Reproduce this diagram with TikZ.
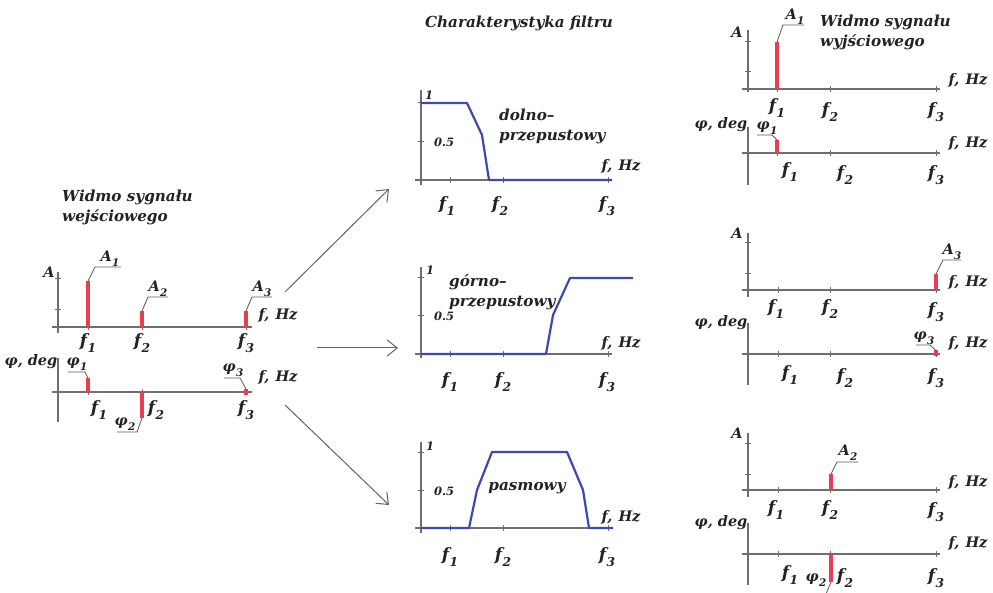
\documentclass[tikz,border=0pt]{standalone}
\usepackage{fontspec}
\setmainfont{DejaVu Serif}
\usetikzlibrary{arrows.meta}
\definecolor{axgray}{RGB}{110,110,110}
\definecolor{barred}{RGB}{232,62,82}
\definecolor{curveblue}{RGB}{62,72,178}
\definecolor{txt}{RGB}{35,35,35}
\newcommand\sbx[2]{#1\kern0.3pt\raisebox{-0.32em}{\fontsize{0.72em}{1em}\selectfont #2}}
\newcommand\fhz{f,\kern6pt Hz}
\tikzset{
  ax/.style={draw=axgray, line width=1.4},
  tk/.style={draw=axgray, line width=1},
  sbar/.style={draw=barred, line width=4.5},
  crv/.style={draw=curveblue, line width=2.2, line join=round},
  ld/.style={draw=axgray!80!black, line width=0.8},
  arr/.style={draw=axgray!90!black, line width=1, -{Straight Barb[length=10,width=16]}},
  lbl/.style={text=txt, inner sep=0, font=\fontsize{14.5}{17}\selectfont\bfseries\itshape},
  flab/.style={text=txt, inner sep=0, font=\fontsize{17}{20}\selectfont\bfseries\itshape},
  small/.style={text=txt, inner sep=0, font=\fontsize{11.5}{14}\selectfont\bfseries\itshape},
  ttl/.style={text=txt, inner sep=0, align=left, font=\fontsize{15.2}{20}\selectfont\bfseries\itshape},
}
\begin{document}
\begin{tikzpicture}[x=1pt,y=-1pt]
\useasboundingbox (0,0) rectangle (993,593);
\fill[white] (0,0) rectangle (993,593);

% ================= LEFT: input spectrum =================
\node[ttl, anchor=west] (tin) at (62,207.5) {Widmo sygnału\\wejściowego};
% amplitude
\draw[ax] (58,272) -- (58,333);
\draw[ax] (52,327) -- (252,327);
\foreach \y in {279,310} \draw[tk] (55,\y) -- (61,\y);
\foreach \x in {88,142,246} \draw[tk] (\x,324) -- (\x,330);
\draw[sbar] (88,327) -- (88,281);
\draw[sbar] (142,327) -- (142,311);
\draw[sbar] (246,327) -- (246,311);
\draw[ld] (88,281) -- (95,267) -- (121,267);
\draw[ld] (142,311) -- (148,297) -- (168,297);
\draw[ld] (246,311) -- (252,297) -- (272,297);
\node[lbl] (la1) at (110,259) {\sbx{A}{1}};
\node[lbl] (la2) at (158,289) {\sbx{A}{2}};
\node[lbl] (la3) at (262,289) {\sbx{A}{3}};
\node[lbl] (lA) at (49,272) {A};
\node[lbl] (lfhz1) at (278,315) {\fhz};
\node[flab] (lf1) at (88,343) {\sbx{f}{1}};
\node[flab] (lf2) at (142,343) {\sbx{f}{2}};
\node[flab] (lf3) at (246,343) {\sbx{f}{3}};
% phase
\draw[ax] (58,358) -- (58,422);
\draw[ax] (52,392) -- (252,392);
\foreach \x in {88,142,246} \draw[tk] (\x,389) -- (\x,395);
\draw[sbar] (88,392) -- (88,378);
\draw[sbar] (142,392) -- (142,418);
\draw[sbar] (246,394.5) -- (246,389);
\draw[ld] (88,378) -- (85,372) -- (68,372);
\draw[ld] (142,418) -- (137,432) -- (117,432);
\draw[ld] (246,389) -- (240,378) -- (224,378);
\node[lbl] (lp1) at (77,364) {\sbx{φ}{1}};
\node[lbl] (lp2) at (125,424) {\sbx{φ}{2}};
\node[lbl] (lp3) at (233,370) {\sbx{φ}{3}};
\node[lbl] (lphi) at (31,362) {φ, deg};
\node[lbl] (lfhz2) at (278,377) {\fhz};
\node[flab] (lpf1) at (99,410) {\sbx{f}{1}};
\node[flab] (lpf2) at (156,410) {\sbx{f}{2}};
\node[flab] (lpf3) at (246,410) {\sbx{f}{3}};

% ================= ARROWS =================
\coordinate (a1s) at (285,292); \coordinate (a1e) at (389,189);
\coordinate (a2s) at (317,348); \coordinate (a2e) at (398,348);
\coordinate (a3s) at (285,405); \coordinate (a3e) at (389,505);
\draw[arr] (a1s) -- (a1e);
\draw[arr] (a2s) -- (a2e);
\draw[arr] (a3s) -- (a3e);

% ================= MIDDLE: filters =================
\node[ttl] (tfilt) at (519,23) {Charakterystyka filtru};
% low-pass
\draw[ax] (421,90) -- (421,185);
\draw[ax] (415,180) -- (612,180);
\foreach \y in {103,142} \draw[tk] (418,\y) -- (424,\y);
\foreach \x in {450,503,608} \draw[tk] (\x,177) -- (\x,183);
\draw[crv] (421,103) -- (467,103) -- (482,135) -- (489,180) -- (612,180);
\node[small] (lo1) at (429,95) {1};
\node[small] (lo05) at (444,142) {0.5};
\node[ttl, anchor=west] (lotxt) at (499,126) {dolno--\\przepustowy};
\node[lbl] (lofhz) at (621,166) {\fhz};
\node[flab] (lof1) at (447,206) {\sbx{f}{1}};
\node[flab] (lof2) at (500,206) {\sbx{f}{2}};
\node[flab] (lof3) at (607,206) {\sbx{f}{3}};
% high-pass
\draw[ax] (421,267) -- (421,358);
\draw[ax] (415,354) -- (612,354);
\foreach \y in {278,316} \draw[tk] (418,\y) -- (424,\y);
\foreach \x in {450,503,608} \draw[tk] (\x,351) -- (\x,357);
\draw[crv] (421,354) -- (546,354) -- (553,315) -- (570,278) -- (633,278);
\node[small] (hi1) at (430,270) {1};
\node[small] (hi05) at (444,316) {0.5};
\node[ttl, anchor=west] (hitxt) at (449,292) {górno--\\przepustowy};
\node[lbl] (hifhz) at (621,343) {\fhz};
\node[flab] (hif1) at (450,382) {\sbx{f}{1}};
\node[flab] (hif2) at (503,382) {\sbx{f}{2}};
\node[flab] (hif3) at (607,382) {\sbx{f}{3}};
% band-pass
\draw[ax] (421,442) -- (421,533);
\draw[ax] (415,528) -- (613,528);
\foreach \y in {452,490} \draw[tk] (418,\y) -- (424,\y);
\foreach \x in {450,503,608} \draw[tk] (\x,525) -- (\x,531);
\draw[crv] (421,528) -- (469,528) -- (477,490) -- (492,452) -- (567,452) -- (583,490) -- (589,528) -- (613,528);
\node[small] (bp1) at (430,446) {1};
\node[small] (bp05) at (444,491) {0.5};
\node[ttl] (bptxt) at (527,488) {pasmowy};
\node[lbl] (bpfhz) at (621,517) {\fhz};
\node[flab] (bpf1) at (450,557) {\sbx{f}{1}};
\node[flab] (bpf2) at (503,557) {\sbx{f}{2}};
\node[flab] (bpf3) at (607,557) {\sbx{f}{3}};

% ================= RIGHT: output spectra =================
\node[ttl, anchor=west] (tout) at (820,32.5) {Widmo sygnału\\wyjściowego};
% panel 1 amplitude
\draw[ax] (748,30) -- (748,92);
\draw[ax] (742,89) -- (940,89);
\foreach \y in {42,72} \draw[tk] (745,\y) -- (751,\y);
\foreach \x in {777,830,936} \draw[tk] (\x,86) -- (\x,92);
\draw[sbar] (777,89) -- (777,42);
\draw[ld] (777,42) -- (783,25) -- (804,25);
\node[lbl] (r1a1) at (795,17) {\sbx{A}{1}};
\node[lbl] (r1A) at (737,32) {A};
\node[lbl] (r1fhz) at (968,80) {\fhz};
\node[flab] (r1f1) at (777,108) {\sbx{f}{1}};
\node[flab] (r1f2) at (830,112) {\sbx{f}{2}};
\node[flab] (r1f3) at (936,112) {\sbx{f}{3}};
% panel 1 phase
\draw[ax] (748,127) -- (748,185);
\draw[ax] (742,153) -- (940,153);
\foreach \x in {777,830,936} \draw[tk] (\x,150) -- (\x,156);
\draw[sbar] (777,153) -- (777,140);
\draw[ld] (777,140) -- (772,135) -- (757,135);
\node[lbl] (r1p1) at (767,128) {\sbx{φ}{1}};
\node[lbl] (r1phi) at (721,125) {φ, deg};
\node[lbl] (r1fhz2) at (968,143) {\fhz};
\node[flab] (r1pf1) at (790,172) {\sbx{f}{1}};
\node[flab] (r1pf2) at (845,175) {\sbx{f}{2}};
\node[flab] (r1pf3) at (936,175) {\sbx{f}{3}};

% panel 2 amplitude
\draw[ax] (748,233) -- (748,297);
\draw[ax] (742,290) -- (940,290);
\foreach \y in {243,274} \draw[tk] (745,\y) -- (751,\y);
\foreach \x in {778,830,936} \draw[tk] (\x,287) -- (\x,293);
\draw[sbar] (936,290) -- (936,274);
\draw[ld] (936,274) -- (943,260) -- (961,260);
\node[lbl] (r2a3) at (952,252) {\sbx{A}{3}};
\node[lbl] (r2A) at (737,233) {A};
\node[lbl] (r2fhz) at (968,282) {\fhz};
\node[flab] (r2f1) at (776,309) {\sbx{f}{1}};
\node[flab] (r2f2) at (830,309) {\sbx{f}{2}};
\node[flab] (r2f3) at (936,312) {\sbx{f}{3}};
% panel 2 phase
\draw[ax] (748,323) -- (748,385);
\draw[ax] (742,354) -- (940,354);
\foreach \x in {778,830,936} \draw[tk] (\x,351) -- (\x,357);
\draw[sbar] (936,356.5) -- (936,350.5);
\draw[ld] (936,350.5) -- (930,345) -- (916,345);
\node[lbl] (r2p3) at (924,338) {\sbx{φ}{3}};
\node[lbl] (r2phi) at (721,323) {φ, deg};
\node[lbl] (r2fhz2) at (968,343) {\fhz};
\node[flab] (r2pf1) at (790,375) {\sbx{f}{1}};
\node[flab] (r2pf2) at (845,378) {\sbx{f}{2}};
\node[flab] (r2pf3) at (936,378) {\sbx{f}{3}};

% panel 3 amplitude
\draw[ax] (748,433) -- (748,497);
\draw[ax] (742,490) -- (940,490);
\foreach \y in {443,474} \draw[tk] (745,\y) -- (751,\y);
\foreach \x in {778,830,936} \draw[tk] (\x,487) -- (\x,493);
\draw[sbar] (831,490) -- (831,474);
\draw[ld] (831,474) -- (837,462) -- (858,462);
\node[lbl] (r3a2) at (848,453) {\sbx{A}{2}};
\node[lbl] (r3A) at (737,433) {A};
\node[lbl] (r3fhz) at (968,482) {\fhz};
\node[flab] (r3f1) at (776,510) {\sbx{f}{1}};
\node[flab] (r3f2) at (830,510) {\sbx{f}{2}};
\node[flab] (r3f3) at (936,512) {\sbx{f}{3}};
% panel 3 phase
\draw[ax] (748,523) -- (748,585);
\draw[ax] (742,554) -- (940,554);
\foreach \x in {778,830,936} \draw[tk] (\x,551) -- (\x,557);
\draw[sbar] (831,554) -- (831,582);
\draw[ld] (831,582) -- (826,594);
\node[lbl] (r3p2) at (816,580) {\sbx{φ}{2}};
\node[lbl] (r3phi) at (721,523) {φ, deg};
\node[lbl] (r3fhz2) at (968,543) {\fhz};
\node[flab] (r3pf1) at (790,575) {\sbx{f}{1}};
\node[flab] (r3pf2) at (845,578) {\sbx{f}{2}};
\node[flab] (r3pf3) at (936,578) {\sbx{f}{3}};
\end{tikzpicture}
\end{document}
